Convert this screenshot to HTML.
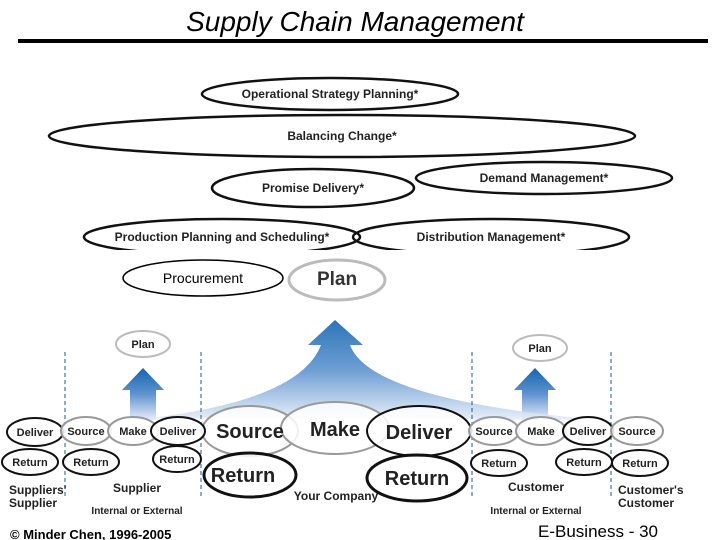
<!DOCTYPE html>
<html><head><style>body{margin:0;background:#fff}svg{display:block}</style></head><body>
<svg width="720" height="540" viewBox="0 0 720 540" xmlns="http://www.w3.org/2000/svg" font-family="Liberation Sans, sans-serif">
<defs>
<linearGradient id="g" x1="0" y1="0" x2="0" y2="1"><stop offset="0" stop-color="#1565b0"/><stop offset="0.5" stop-color="#5f93cf"/><stop offset="1" stop-color="#e6eef8"/></linearGradient>
</defs>
<text x="355" y="31" font-size="28" font-style="italic" text-anchor="middle">Supply Chain Management</text>
<rect x="18" y="39" width="690" height="4" fill="#000"/>
<g fill="none" stroke="#111" stroke-width="2.5">
<ellipse cx="342" cy="136" rx="293" ry="21"/>
<ellipse cx="330" cy="94" rx="128" ry="16" fill="#fff"/>
<ellipse cx="544" cy="178" rx="128" ry="16" fill="#fff"/>
<ellipse cx="313" cy="188" rx="101" ry="19" fill="#fff"/>
<ellipse cx="491" cy="237" rx="138" ry="18" fill="#fff"/>
<ellipse cx="222" cy="237" rx="138" ry="18"/>
</g>
<rect x="60" y="250" width="600" height="20" fill="#fff"/>
<g font-size="12" font-weight="bold" text-anchor="middle" fill="#222">
<text x="330" y="98">Operational Strategy Planning*</text>
<text x="342" y="140">Balancing Change*</text>
<text x="313" y="192">Promise Delivery*</text>
<text x="544" y="182">Demand Management*</text>
<text x="222" y="241">Production Planning and Scheduling*</text>
<text x="491" y="241">Distribution Management*</text>
</g>
<ellipse cx="203" cy="278" rx="80" ry="18" fill="none" stroke="#000" stroke-width="1.5"/>
<text x="203" y="283" font-size="14" text-anchor="middle">Procurement</text>
<ellipse cx="337" cy="280" rx="48" ry="20" fill="#fff" stroke="#bbb" stroke-width="3"/>
<text x="337" y="285" font-size="19" font-weight="bold" text-anchor="middle" fill="#333">Plan</text>
<path d="M130 420 L130 390 L122 390 L143 368 L164 390 L156 390 L156 420 Z" fill="url(#g)"/>
<path d="M522 420 L522 390 L514 390 L535 368 L556 390 L548 390 L548 420 Z" fill="url(#g)"/>
<path d="M150 418 Q300 400 321 345 L308 345 L335 320 L363 345 L350 345 Q370 400 600 420 Z" fill="url(#g)" opacity="0.9"/>
<g stroke="#1a5a9e" stroke-dasharray="4,3" stroke-width="1">
<line x1="65" y1="352" x2="65" y2="496"/><line x1="201" y1="352" x2="201" y2="496"/>
<line x1="472" y1="352" x2="472" y2="496"/><line x1="611" y1="352" x2="611" y2="496"/>
</g>
<g fill="#fff" fill-opacity="0.85" stroke-width="2">
<ellipse cx="143" cy="344" rx="27" ry="13" stroke="#bbb"/>
<ellipse cx="540" cy="348" rx="27" ry="13" stroke="#bbb"/>
<ellipse cx="250" cy="431" rx="48" ry="25" stroke="#999"/>
<ellipse cx="335" cy="428" rx="54" ry="26" stroke="#999"/>
<ellipse cx="419" cy="431" rx="52" ry="25" stroke="#111"/>
<ellipse cx="250" cy="475" rx="46" ry="22" stroke="#111" stroke-width="3"/>
<ellipse cx="417" cy="478" rx="50" ry="23" stroke="#111" stroke-width="3"/>
<ellipse cx="35" cy="432" rx="28" ry="14" stroke="#111"/>
<ellipse cx="30" cy="462" rx="28" ry="13" stroke="#111"/>
<ellipse cx="86" cy="431" rx="25" ry="14" stroke="#999"/>
<ellipse cx="133" cy="431" rx="25" ry="14" stroke="#999"/>
<ellipse cx="178" cy="431" rx="27" ry="14" stroke="#111"/>
<ellipse cx="91" cy="462" rx="28" ry="13" stroke="#111"/>
<ellipse cx="177" cy="459" rx="24" ry="13" stroke="#111"/>
<ellipse cx="494" cy="431" rx="25" ry="14" stroke="#999"/>
<ellipse cx="541" cy="431" rx="25" ry="14" stroke="#999"/>
<ellipse cx="588" cy="431" rx="25" ry="14" stroke="#111"/>
<ellipse cx="637" cy="431" rx="26" ry="14" stroke="#999"/>
<ellipse cx="499" cy="463" rx="28" ry="13" stroke="#111"/>
<ellipse cx="584" cy="462" rx="28" ry="13" stroke="#111"/>
<ellipse cx="640" cy="463" rx="28" ry="13" stroke="#111"/>
</g>
<g font-weight="bold" text-anchor="middle" fill="#222" font-family="Liberation Sans Narrow, Liberation Sans, sans-serif">
<g font-size="11">
<text x="143" y="348">Plan</text><text x="540" y="352">Plan</text>
<text x="35" y="436">Deliver</text><text x="30" y="466">Return</text>
<text x="86" y="435">Source</text><text x="133" y="435">Make</text><text x="178" y="435">Deliver</text>
<text x="91" y="466">Return</text><text x="177" y="463">Return</text>
<text x="494" y="435">Source</text><text x="541" y="435">Make</text><text x="588" y="435">Deliver</text><text x="637" y="435">Source</text>
<text x="499" y="467">Return</text><text x="584" y="466">Return</text><text x="640" y="467">Return</text>
</g>
<g font-size="20">
<text x="250" y="438">Source</text><text x="335" y="436">Make</text><text x="419" y="439">Deliver</text>
<text x="243" y="482">Return</text><text x="417" y="485">Return</text>
</g>
<g font-size="12" text-anchor="start">
<text x="9" y="494">Suppliers'</text><text x="9" y="507">Supplier</text>
<text x="618" y="494">Customer's</text><text x="618" y="507">Customer</text>
</g>
<g font-size="12">
<text x="137" y="492">Supplier</text><text x="336" y="500">Your Company</text><text x="536" y="491">Customer</text>
</g>
<g font-size="10">
<text x="137" y="514">Internal or External</text><text x="536" y="514">Internal or External</text>
</g>
</g>
<text x="10" y="539" font-size="13" font-weight="bold">© Minder Chen, 1996-2005</text>
<text x="598" y="537" font-size="17" text-anchor="middle">E-Business - 30</text>
</svg>
</body></html>
